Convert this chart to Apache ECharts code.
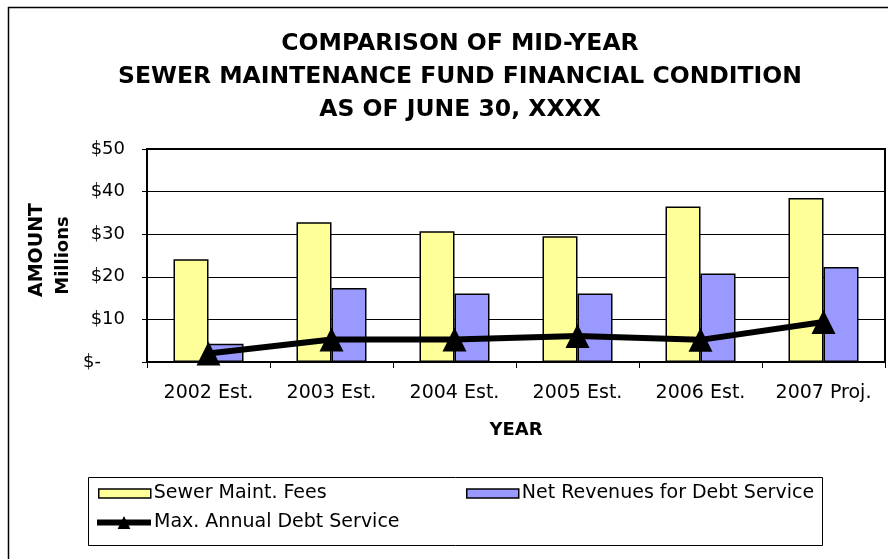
<!DOCTYPE html>
<html>
<head>
    <meta http-equiv="Content-Type" content="text/html; charset=utf-8"/>
    <script src="https://cdn.jsdelivr.net/npm/echarts@6/dist/echarts.min.js"></script>
    <style>
        html, body { margin: 0; padding: 0; background: #fff; }
    </style>
</head>
<body>
<div id="chart" style="width: 888px; height: 559px;"></div>

<script type="text/javascript">
    // 数据
    var years = ['2002 Est.', '2003 Est.', '2004 Est.', '2005 Est.', '2006 Est.', '2007 Proj.'];
    var sewerFees = [24.1, 32.8, 30.7, 29.5, 36.5, 38.5];
    var netRevenues = [4.3, 17.4, 16.1, 16.1, 20.8, 22.3];
    var maxDebtService = [2.0, 5.3, 5.3, 6.1, 5.2, 9.4];
    var yTicks = [0, 10, 20, 30, 40, 50];

    // 原图文字偏宽，用 DejaVu Sans 来接近
    var font = '"DejaVu Sans", sans-serif';

    var chart = echarts.init(document.getElementById('chart'));
    var legendText = {fontFamily: font, fontSize: 19, color: '#000', padding: [0, 0, 0, -2]};
    var option = {
        backgroundColor: '#fff',
        animation: false,
        title: {
            text: 'COMPARISON OF MID-YEAR\nSEWER MAINTENANCE FUND FINANCIAL CONDITION\nAS OF JUNE 30, XXXX',
            left: 455,
            top: 22,
            textAlign: 'center',
            textStyle: {
                fontFamily: font,
                fontSize: 23.5,
                fontWeight: 'bold',
                color: '#000',
                lineHeight: 33
            }
        },
        /* 外框、图例框、纵轴标题 */
        graphic: [
            {
                type: 'rect',
                shape: {x: 8.5, y: 7.5, width: 900, height: 600},
                style: {fill: 'none', stroke: '#000', lineWidth: 1.5},
                silent: true
            },
            {
                type: 'rect',
                shape: {x: 88.5, y: 477.5, width: 734, height: 68},
                style: {fill: 'none', stroke: '#000', lineWidth: 1},
                silent: true
            },
            {
                type: 'text',
                x: 37,
                y: 250,
                rotation: Math.PI / 2,
                style: {
                    text: 'AMOUNT',
                    font: 'bold 19px ' + font,
                    fill: '#000',
                    align: 'center',
                    verticalAlign: 'middle'
                }
            }
        ],
        legend: [
            {
                left: 93, top: 479,
                icon: 'rect',
                itemWidth: 52, itemHeight: 9,
                itemStyle: {borderColor: '#000', borderWidth: 1.5},
                textStyle: legendText,
                data: ['Sewer Maint. Fees']
            },
            {
                left: 461, top: 479,
                icon: 'rect',
                itemWidth: 52, itemHeight: 9,
                itemStyle: {borderColor: '#000', borderWidth: 1.5},
                textStyle: legendText,
                data: ['Net Revenues for Debt Service']
            },
            {
                left: 89, top: 508,
                itemWidth: 54, itemHeight: 16,
                lineStyle: {width: 6},
                textStyle: legendText,
                data: ['Max. Annual Debt Service']
            }
        ],
        grid: {
            left: 147,
            right: 3,
            top: 149,
            bottom: 197,
            show: true,
            borderColor: '#000',
            borderWidth: 2
        },
        xAxis: {
            type: 'category',
            data: years,
            name: 'YEAR',
            nameLocation: 'middle',
            nameGap: 59,
            nameTextStyle: {fontFamily: font, fontSize: 18, fontWeight: 'bold', color: '#000'},
            axisLine: {lineStyle: {color: '#000', width: 2}},
            axisTick: {show: true, interval: 0, length: 6, lineStyle: {color: '#000'}},
            axisLabel: {interval: 0, fontFamily: font, fontSize: 19, color: '#000', margin: 22}
        },
        yAxis: {
            type: 'value',
            min: 0,
            max: 50,
            interval: 10,
            name: 'Millions',
            nameLocation: 'middle',
            nameGap: 71,
            nameRotate: 90,
            nameTextStyle: {fontFamily: font, fontSize: 18, fontWeight: 'bold', color: '#000'},
            axisLine: {show: true, lineStyle: {color: '#000', width: 2}},
            axisTick: {show: true, length: 5, lineStyle: {color: '#000'}},
            axisLabel: {
                fontFamily: font, fontSize: 18, color: '#000', margin: 22,
                formatter: function (v) {
                    return v === yTicks[0] ? '{z|$-}' : '$' + v;
                },
                rich: {
                    z: {fontFamily: font, fontSize: 18, color: '#000', padding: [0, 24, 0, 0]}
                }
            },
            splitLine: {show: true, lineStyle: {color: '#000', width: 1}}
        },
        series: [
            {
                name: 'Sewer Maint. Fees',
                type: 'bar',
                data: sewerFees,
                barWidth: 35,
                barGap: '0%',
                itemStyle: {color: '#FFFF99', borderColor: '#000', borderWidth: 1.5}
            },
            {
                name: 'Net Revenues for Debt Service',
                type: 'bar',
                data: netRevenues,
                barWidth: 35,
                itemStyle: {color: '#9999FF', borderColor: '#000', borderWidth: 1.5}
            },
            {
                name: 'Max. Annual Debt Service',
                type: 'line',
                data: maxDebtService,
                symbol: 'triangle',
                symbolSize: [24, 24],
                lineStyle: {color: '#000', width: 6},
                itemStyle: {color: '#000'},
                z: 5
            }
        ]
    };
    chart.setOption(option);
</script>
</body>
</html>
